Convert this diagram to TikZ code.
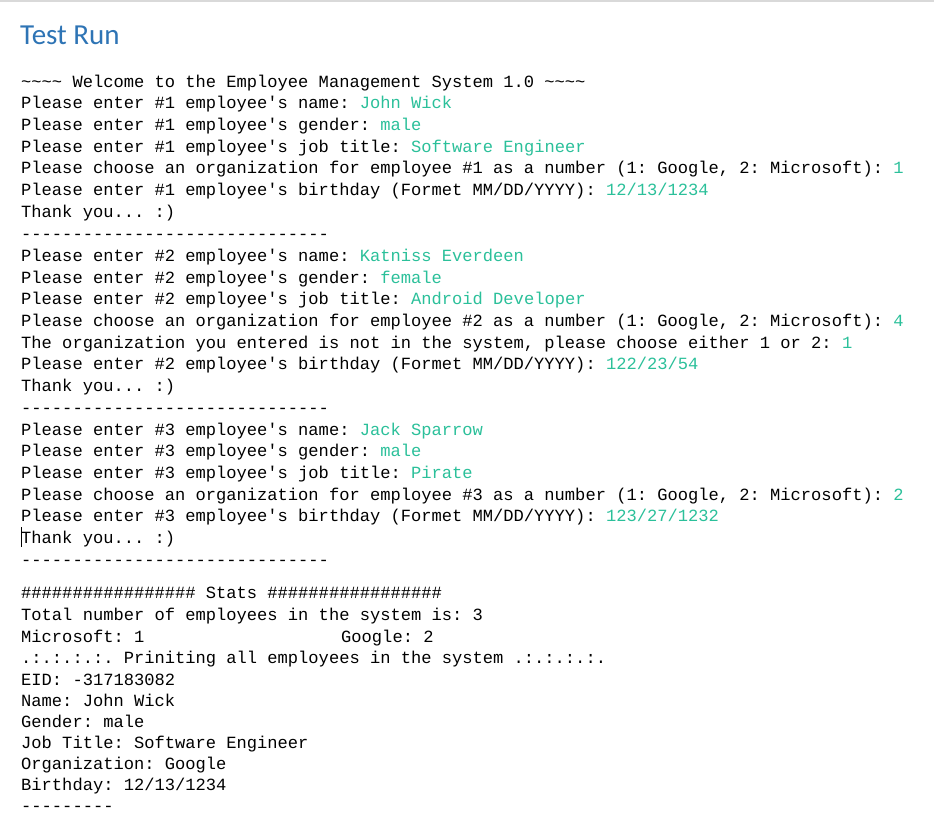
\documentclass[tikz,border=0pt]{standalone}
\usepackage{fontspec}
\setmonofont{Liberation Mono}
\newfontfamily\titlefont{Carlito}
\definecolor{inp}{HTML}{2BC09A}
\definecolor{ttl}{HTML}{2E74B5}
\begin{document}
\begin{tikzpicture}[x=1pt,y=-1pt,
  ln/.style={anchor=base west,inner sep=0pt,font=\ttfamily\fontsize{17.1}{21}\selectfont,text=black}]
\useasboundingbox[fill=white] (0,0) rectangle (934,821);
\draw[gray!30,line width=1.5pt] (0,1) -- (934,1);
\node[anchor=base west,inner sep=0pt,font=\titlefont\fontsize{29}{30}\selectfont,text=ttl] (title) at (20,45) {Test Run};
\def\L#1#2#3{\node[ln] (#1) at (21,#2) {#3};}
\L{a1}{88}{\string~\string~\string~\string~ Welcome to the Employee Management System 1.0 \string~\string~\string~\string~}
\L{a2}{109}{Please enter \#1 employee's name: \textcolor{inp}{John Wick}}
\L{a3}{131}{Please enter \#1 employee's gender: \textcolor{inp}{male}}
\L{a4}{153}{Please enter \#1 employee's job title: \textcolor{inp}{Software Engineer}}
\L{a5}{174}{Please choose an organization for employee \#1 as a number (1: Google, 2: Microsoft): \textcolor{inp}{1}}
\L{a6}{196}{Please enter \#1 employee's birthday (Formet MM/DD/YYYY): \textcolor{inp}{12/13/1234}}
\L{a7}{218}{Thank you... :)}
\L{a8}{239}{-{}-{}-{}-{}-{}-{}-{}-{}-{}-{}-{}-{}-{}-{}-{}-{}-{}-{}-{}-{}-{}-{}-{}-{}-{}-{}-{}-{}-{}-}
\L{b1}{261}{Please enter \#2 employee's name: \textcolor{inp}{Katniss Everdeen}}
\L{b2}{283}{Please enter \#2 employee's gender: \textcolor{inp}{female}}
\L{b3}{304}{Please enter \#2 employee's job title: \textcolor{inp}{Android Developer}}
\L{b4}{326}{Please choose an organization for employee \#2 as a number (1: Google, 2: Microsoft): \textcolor{inp}{4}}
\L{b5}{348}{The organization you entered is not in the system, please choose either 1 or 2: \textcolor{inp}{1}}
\L{b6}{369}{Please enter \#2 employee's birthday (Formet MM/DD/YYYY): \textcolor{inp}{122/23/54}}
\L{b7}{391}{Thank you... :)}
\L{b8}{413}{-{}-{}-{}-{}-{}-{}-{}-{}-{}-{}-{}-{}-{}-{}-{}-{}-{}-{}-{}-{}-{}-{}-{}-{}-{}-{}-{}-{}-{}-}
\L{c1}{435}{Please enter \#3 employee's name: \textcolor{inp}{Jack Sparrow}}
\L{c2}{456}{Please enter \#3 employee's gender: \textcolor{inp}{male}}
\L{c3}{478}{Please enter \#3 employee's job title: \textcolor{inp}{Pirate}}
\L{c4}{500}{Please choose an organization for employee \#3 as a number (1: Google, 2: Microsoft): \textcolor{inp}{2}}
\L{c5}{521}{Please enter \#3 employee's birthday (Formet MM/DD/YYYY): \textcolor{inp}{123/27/1232}}
\L{c6}{543}{Thank you... :)}
\L{c7}{565}{-{}-{}-{}-{}-{}-{}-{}-{}-{}-{}-{}-{}-{}-{}-{}-{}-{}-{}-{}-{}-{}-{}-{}-{}-{}-{}-{}-{}-{}-}
\draw[black,line width=0.8pt] (21,527) -- (21,547);
\L{d1}{598}{\#\#\#\#\#\#\#\#\#\#\#\#\#\#\#\#\# Stats \#\#\#\#\#\#\#\#\#\#\#\#\#\#\#\#\#}
\L{d2}{620}{Total number of employees in the system is: 3}
\L{d3}{642}{Microsoft: 1}
\node[ln] (d3b) at (341,642) {Google: 2};
\L{d4}{663}{.:.:.:.:. Priniting all employees in the system .:.:.:.:.}
\L{d5}{685}{EID: -317183082}
\L{d6}{706}{Name: John Wick}
\L{d7}{727}{Gender: male}
\L{d8}{748}{Job Title: Software Engineer}
\L{d9}{769}{Organization: Google}
\L{d10}{790}{Birthday: 12/13/1234}
\L{d11}{811}{-{}-{}-{}-{}-{}-{}-{}-{}-}
\end{tikzpicture}
\end{document}
